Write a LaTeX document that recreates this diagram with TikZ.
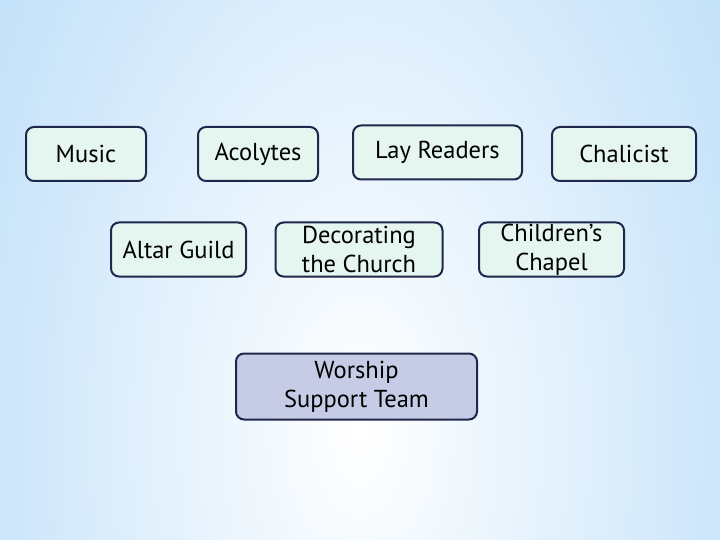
\documentclass[tikz,border=0pt]{standalone}
\usepackage{fontspec}
\setmainfont{PT Sans}
\usetikzlibrary{positioning}

\definecolor{bgblue}{RGB}{160,208,246}
\definecolor{boxline}{RGB}{30,40,75}
\definecolor{boxfill}{RGB}{229,245,240}
\definecolor{teamfill}{RGB}{199,204,230}

\tikzset{
    task/.style={draw=boxline, line width=2pt, fill=boxfill, rounded corners=8pt,
        minimum height=54pt, align=center, inner sep=1pt,
        font=\fontsize{24.5}{29}\selectfont},
    team/.style={task, fill=teamfill, minimum height=66pt}
}

\begin{document}
\begin{tikzpicture}[x=1pt, y=-1pt]
    % background
    \useasboundingbox (0,0) rectangle (720,540);
    \fill[bgblue] (0,0) rectangle (720,540);
    \begin{scope}
        \clip (0,0) rectangle (720,540);
        \shade[inner color=white, outer color=bgblue] (-320,-780) rectangle (1040,1640);
    \end{scope}

    % top row
    \node[task, minimum width=120pt] (music) at (86,154) {Music};
    \node[task, minimum width=120pt] (acolytes) at (258,154) {Acolytes};
    \node[task, minimum width=169pt] (lay) at (437.5,152.5) {Lay Readers};
    \node[task, minimum width=144pt] (chalicist) at (624,154) {Chalicist};

    % second row
    \node[task, minimum width=135pt] (altar) at (178.5,249.5) {Altar Guild};
    \node[task, minimum width=167pt] (decor) at (359,249.5) {Decorating\\the Church};
    \node[task, minimum width=145pt] (chapel) at (551.5,249.5) {Children’s\\Chapel};

    % team
    \node[team, minimum width=241pt] (worship) at (356.5,386.5) {Worship\\Support Team};
\end{tikzpicture}
\end{document}
